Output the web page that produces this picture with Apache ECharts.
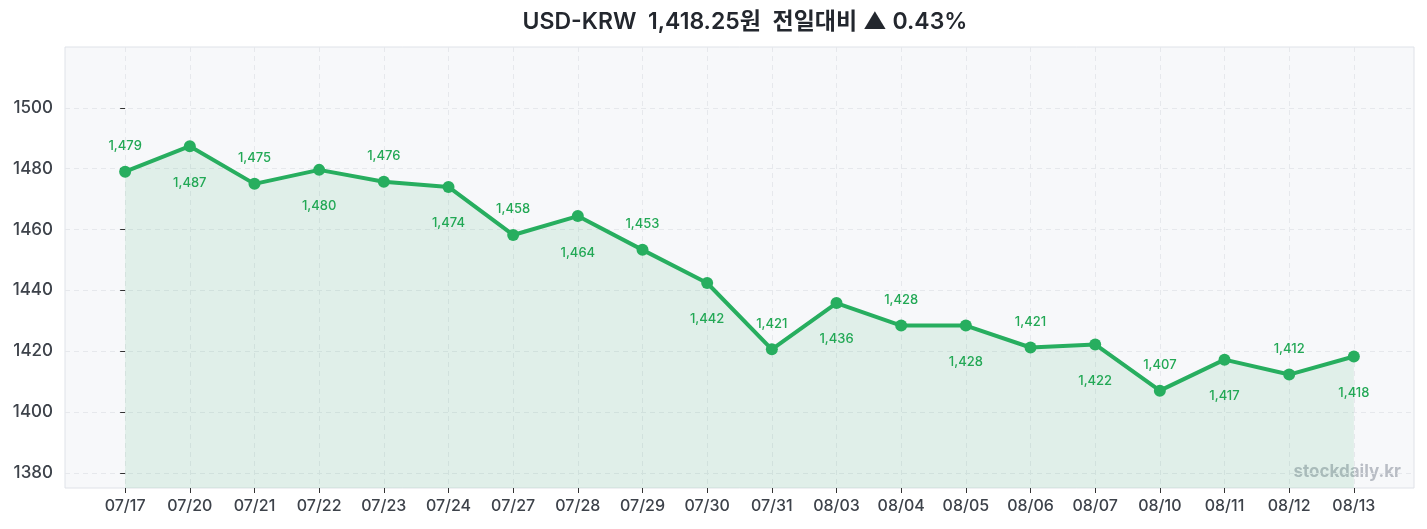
<!DOCTYPE html>
<html>
<head>
<meta charset="utf-8">
<script src="https://cdn.jsdelivr.net/npm/echarts@6/dist/echarts.min.js"></script>
<style>
  html, body { margin: 0; padding: 0; background: #fff; }
  #chart { width: 1427px; height: 529px; }
</style>
</head>
<body>
<div id="chart"></div>
<script>
var dates = ['07/17', '07/20', '07/21', '07/22', '07/23', '07/24', '07/27', '07/28', '07/29', '07/30',
             '07/31', '08/03', '08/04', '08/05', '08/06', '08/07', '08/10', '08/11', '08/12', '08/13'];
var rates = [1479.0, 1487.4, 1475.0, 1479.6, 1475.7, 1474.0, 1458.2, 1464.4, 1453.3, 1442.4,
             1420.6, 1435.8, 1428.4, 1428.4, 1421.2, 1422.2, 1407.0, 1417.2, 1412.3, 1418.25];
var yTicks = [1380, 1400, 1420, 1440, 1460, 1480, 1500];

var font = 'Inter, "Noto Sans CJK KR", sans-serif';
var green = '#27ae5f';

function fmt(v) {
    var s = String(Math.round(v));
    return s.replace(/\B(?=(\d{3})+(?!\d))/g, ',');
}

var xIdx = dates.map(function (d, i) { return i; });

var points = rates.map(function (v, i) {
    var up = i % 2 === 0;
    return {
        value: [i, v],
        label: {
            position: up ? 'top' : 'bottom',
            distance: up ? 13 : 24
        }
    };
});

var option = {
    backgroundColor: '#ffffff',
    animation: false,
    textStyle: { fontFamily: font },
    title: {
        text: 'USD-KRW  1,418.25원  전일대비 ▲ 0.43%',
        left: 740,
        top: 6,
        textAlign: 'center',
        textStyle: { fontFamily: font, fontSize: 23, fontWeight: 600, color: '#23272e' }
    },
    grid: {
        left: 65, right: 13, top: 47, bottom: 41,
        show: true,
        backgroundColor: '#f7f8fa',
        borderColor: '#dfe2e8',
        borderWidth: 1
    },
    xAxis: {
        type: 'value',
        min: -0.93,
        max: 19.93,
        interval: 1,
        axisLine: { show: false },
        axisTick: { show: true, length: 5, customValues: xIdx, lineStyle: { color: '#333' } },
        axisLabel: {
            customValues: xIdx,
            margin: 10,
            fontSize: 16,
            fontWeight: 500,
            color: '#3d424a',
            fontFamily: font,
            formatter: function (v) { return dates[Math.round(v)] || ''; }
        },
        splitLine: { show: true, lineStyle: { color: '#e6e8ec', type: [5, 4] } }
    },
    yAxis: {
        type: 'value',
        min: 1375,
        max: 1520,
        interval: 20,
        axisLine: { show: false },
        axisTick: { show: true, length: 5, customValues: yTicks, lineStyle: { color: '#333' } },
        axisLabel: {
            customValues: yTicks,
            margin: 12,
            fontSize: 17,
            fontWeight: 500,
            color: '#3d424a',
            fontFamily: font,
            formatter: function (v) { return String(v); }
        },
        splitLine: { show: true, lineStyle: { color: '#e6e8ec', type: [5, 4] } }
    },
    graphic: [{
        type: 'text',
        right: 26,
        top: 463,
        style: { text: 'stockdaily.kr', fill: '#b9bdc5', font: 'bold 17px ' + font }
    }],
    series: [{
        type: 'line',
        data: points,
        symbol: 'circle',
        symbolSize: 12,
        itemStyle: { color: green },
        lineStyle: { color: green, width: 4 },
        areaStyle: { color: 'rgba(39,174,95,0.15)' },
        label: {
            show: true,
            fontSize: 13,
            fontWeight: 500,
            color: '#22a855',
            fontFamily: font,
            formatter: function (p) { return fmt(p.value[1]); }
        }
    }]
};

var chart = echarts.init(document.getElementById('chart'));
chart.setOption(option);
</script>
</body>
</html>
